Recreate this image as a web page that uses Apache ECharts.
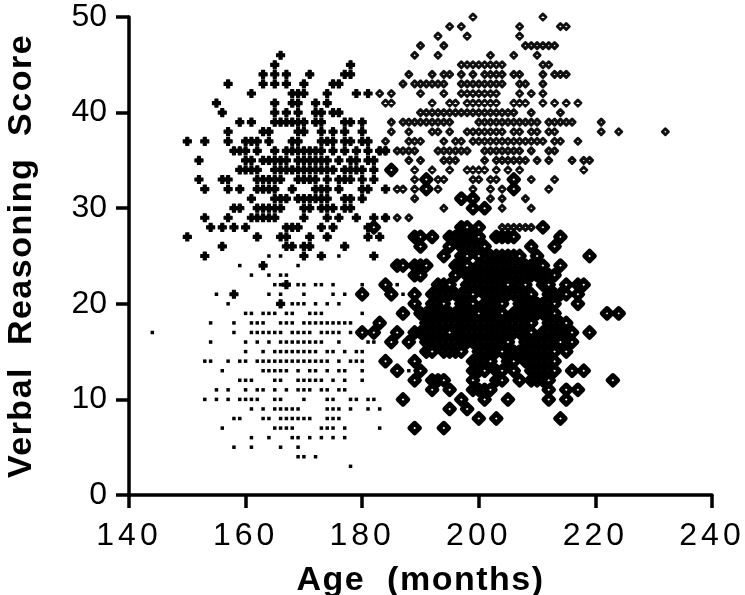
<!DOCTYPE html>
<html><head><meta charset="utf-8">
<style>html,body{margin:0;padding:0;background:#fff}#c{width:745px;height:595px}</style>
<script src="https://cdn.jsdelivr.net/npm/echarts@6/dist/echarts.min.js"></script>
</head><body><div id="c"></div>
<script>
const xTicks=[140,160,180,200,220,240];
const yTicks=[0,10,20,30,40,50];
// each table: verbal reasoning score -> ages in months
const olderHighScore={
50:[199,211],49:[195,197,207,214,215],48:[193,198,207],47:[190,194,208,209,210,211,212,213],
46:[189,193,202,206,210],45:[197,198,199,200,201,202,203,204,211,212],
44:[188,192,194,195,197,199,201,202,203,204,206,207,211,213,214,215],
43:[187,189,190,191,192,193,194,197,198,199,200,201,202,203,204,207,208,211],
42:[183,185,190,194,197,198,199,200,201,202,203,207,209,211],
41:[184,185,192,195,196,198,199,200,201,202,203,206,207,208,211,213,215,217],
40:[190,191,192,193,194,195,196,197,198,199,200,201,202,203,204,205,206,209,214],
39:[185,187,188,189,190,191,192,193,194,195,200,201,202,203,204,205,206,207,208,209,210,212,213,214,215,216,221],
38:[185,188,192,193,195,198,199,200,201,202,203,204,206,207,209,210,212,213,221,224,232],
37:[184,188,189,190,194,196,197,199,200,201,202,203,204,205,206,207,208,209,210,211,213,214,217],
36:[183,184,186,187,188,189,193,194,195,196,197,198,201,202,203,204,205,206,207,209,212,213],
35:[188,190,194,195,196,201,203,204,205,206,207,208,210,212,216,218,219],
34:[189,192,195,198,199,200,201,203,205,207,218],
33:[189,193,194,199,200,202,203,209,213],32:[186,187,189,193,199,202,204,212],
31:[189,199,202,204,208],30:[194,204,209],29:[184,186,188],28:[204,205,206,207,208,209]};
const youngerHighScore={
46:[166],45:[165,178],44:[163,165,167,171,177,178],43:[157,163,165,167,170,175,176],
42:[161,168,169,170,174,179,181],41:[155,165,168,169,172,174],
40:[156,165,167,169,172,173,175,176],39:[159,161,165,166,167,168,169,170,172,173,177,178,180],
38:[157,163,164,169,170,173,175,177,180],
37:[150,153,157,160,161,162,164,168,169,173,174,175,177,178,180,181],
36:[158,159,160,162,165,167,168,169,170,171,172,173,175,177,179,181,183,184],
35:[152,160,161,163,164,165,166,167,169,170,171,172,173,174,176,178,179,181,182],
34:[159,160,161,162,165,166,167,168,169,170,171,172,173,174,175,177,178,179,180,182],
33:[152,156,157,162,163,164,165,166,169,170,171,172,174,176,177,178,180,182],
32:[153,157,159,162,163,164,165,168,172,173,174,176,180,181,184],
31:[161,165,166,167,169,170,171,172,173,174,177,178,180],
30:[158,159,162,163,164,165,166,170,171,173,174,175,177,178],
29:[153,157,161,162,163,164,165,170,174,176,179,182,184],
28:[154,156,158,160,167,168,169,173,175,181,182],27:[150,162,166,167,171,174,181,183],
26:[156,167,168,170,171,177],25:[153,170,173,182],24:[163],22:[167],21:[158],20:[166]};
const olderLowScore={
34:[185],33:[191,206],32:[191,206],31:[197,199],30:[199,201],28:[182,197,198,200,211],
27:[189,190,192,195,196,197,198,199,200,203,204,205,206,214],
26:[190,195,197,198,199,200,201,209,213],
25:[194,197,198,200,202,203,204,205,206,207,210,219],
24:[186,187,189,190,191,196,197,198,200,201,202,203,204,205,206,207,208,209,210,211,214],
23:[189,190,196,198,199,200,201,202,203,204,205,206,207,208,209,210,211,212,213],
22:[184,193,194,195,198,199,200,201,202,203,204,205,207,208,211,212,215,217,218],
21:[180,185,189,192,193,194,195,196,197,198,199,201,202,203,204,205,206,207,208,209,212,213,214,215,217],
20:[189,192,193,194,197,198,199,201,202,203,204,207,208,209,210,211,212,213,217],
19:[187,190,191,192,193,194,195,196,197,198,199,200,202,203,204,206,207,208,209,210,211,212,213,222,224],
18:[183,191,192,193,194,195,196,197,198,199,200,201,202,203,204,205,206,207,208,209,212,213,214,215],
17:[180,182,186,189,190,191,192,193,194,195,197,198,199,200,201,202,203,204,205,206,207,208,209,211,212,213,214,215,216,219],
16:[185,188,191,192,193,194,195,196,197,198,199,200,201,202,203,204,205,208,209,210,211,212,213,214,216],
15:[191,192,194,195,196,197,200,201,202,203,204,206,207,208,209,210,211,212,213,215],
14:[184,189,199,200,201,202,205,206,208,209,210,211,212,213],
13:[186,190,199,200,201,203,204,206,209,210,211,212,213,216,218],
12:[189,192,193,194,199,203,204,207,209,210,211,212,223],
11:[192,195,199,200,201,202,212,215,217],10:[187,197,201,205,212,215],9:[195,198],8:[200,203,214],7:[189,194]};
const youngerLowScore={
25:[164,166,176],24:[159,169],23:[161,164,166,167],22:[165,166,169,170,172,173,175,180,186],
21:[155,164,166,170,175,177,187],20:[157,168,169,170,172,174,176],
19:[160,161,163,164,165,167,168,171,172,173,180],
18:[154,158,161,162,163,166,167,168,170,171,172,173,174,175,176,177,178],
17:[144,158,161,162,163,164,165,166,168,169,170,171,173,174,175,176,178],
16:[154,160,162,164,166,167,168,169,170,171,172,173,176,181,182],
15:[160,163,165,166,167,168,169,170,171,172,174,175,177,179,180],
14:[153,154,157,159,160,162,163,164,165,166,167,168,169,170,171,172,173,174,176,178,179,180],
13:[156,163,164,165,166,167,169,171,172,174,176,177,180,188],
12:[159,160,161,165,166,169,170,171,172,173,175,177,180],
11:[155,157,160,162,163,165,167,169,170,171,173,174,176,177],
10:[153,155,157,159,160,161,162,165,166,170,174,175,178,179,181,182],
9:[161,163,165,166,167,168,169,174,175,176,178,181,183],
8:[158,159,163,164,166,167,168,169,170,171,174,175,176],
7:[156,165,166,167,168,173,174,175,177,183],6:[161,164,168,169,171,173,175,177],
5:[158,161,166,169],4:[169,170,172],3:[178]};
const pts=t=>Object.keys(t).flatMap(y=>t[y].map(x=>[x,+y]));
const font='"Liberation Sans",Arial,sans-serif';
// wider tracking for the x tick labels and the axis titles, as in the original
const origFill=CanvasRenderingContext2D.prototype.fillText;
CanvasRenderingContext2D.prototype.fillText=function(t,x,y,m){
 this.letterSpacing=/^\d{3}$/.test(t)?'4px':/^\d{1,2}$/.test(t)?'0px':'1.5px';
 return m===undefined?origFill.call(this,t,x,y):origFill.call(this,t,x,y,m);
};
const plusPath='path://M2.5 0H5.5V2.5H8V5.5H5.5V8H2.5V5.5H0V2.5H2.5Z';
const chart=echarts.init(document.getElementById('c'),null,{renderer:'canvas'});
const axisCommon={axisLine:{onZero:false,lineStyle:{color:'#000',width:3.5}},
 axisTick:{inside:false,length:13,lineStyle:{color:'#000',width:3.5}},splitLine:{show:false},
 nameLocation:'middle',nameTextStyle:{color:'#000',fontFamily:font,fontWeight:'bold',fontSize:34},
 axisLabel:{color:'#000',fontFamily:font,fontSize:32}};
chart.setOption({animation:false,
 grid:{left:129,top:17,width:583,height:478,containLabel:false,outerBoundsMode:'none'},
 xAxis:Object.assign({},axisCommon,{type:'value',min:140,max:240,interval:20,name:'Age  (months)',nameGap:69,
  axisLabel:Object.assign({},axisCommon.axisLabel,{margin:25,formatter:v=>xTicks.includes(v)?String(v):''})}),
 yAxis:Object.assign({},axisCommon,{type:'value',min:0,max:50,interval:10,name:'Verbal  Reasoning  Score',nameGap:90,
  axisLabel:Object.assign({},axisCommon.axisLabel,{margin:22,formatter:v=>yTicks.includes(v)?String(v):''})}),
 series:[
 {type:'scatter',name:'older high',data:pts(olderHighScore),symbol:'diamond',symbolSize:6,z:2,
  itemStyle:{color:'#fff',borderColor:'#111',borderWidth:3,borderJoin:'round',opacity:1}},
 {type:'scatter',name:'younger high',data:pts(youngerHighScore),symbol:plusPath,symbolSize:8,z:3,
  itemStyle:{color:'#000',borderColor:'#000',borderWidth:1.2,borderJoin:'round',opacity:1}},
 {type:'scatter',name:'younger low',data:pts(youngerLowScore),symbol:'rect',symbolSize:3.5,z:3,
  itemStyle:{color:'#000',opacity:1}},
 {type:'scatter',name:'older low',data:pts(olderLowScore),symbol:'diamond',symbolSize:9.5,z:4,
  itemStyle:{color:'#fff',borderColor:'#000',borderWidth:5,borderJoin:'round',opacity:1}}
 ]});
</script></body></html>
